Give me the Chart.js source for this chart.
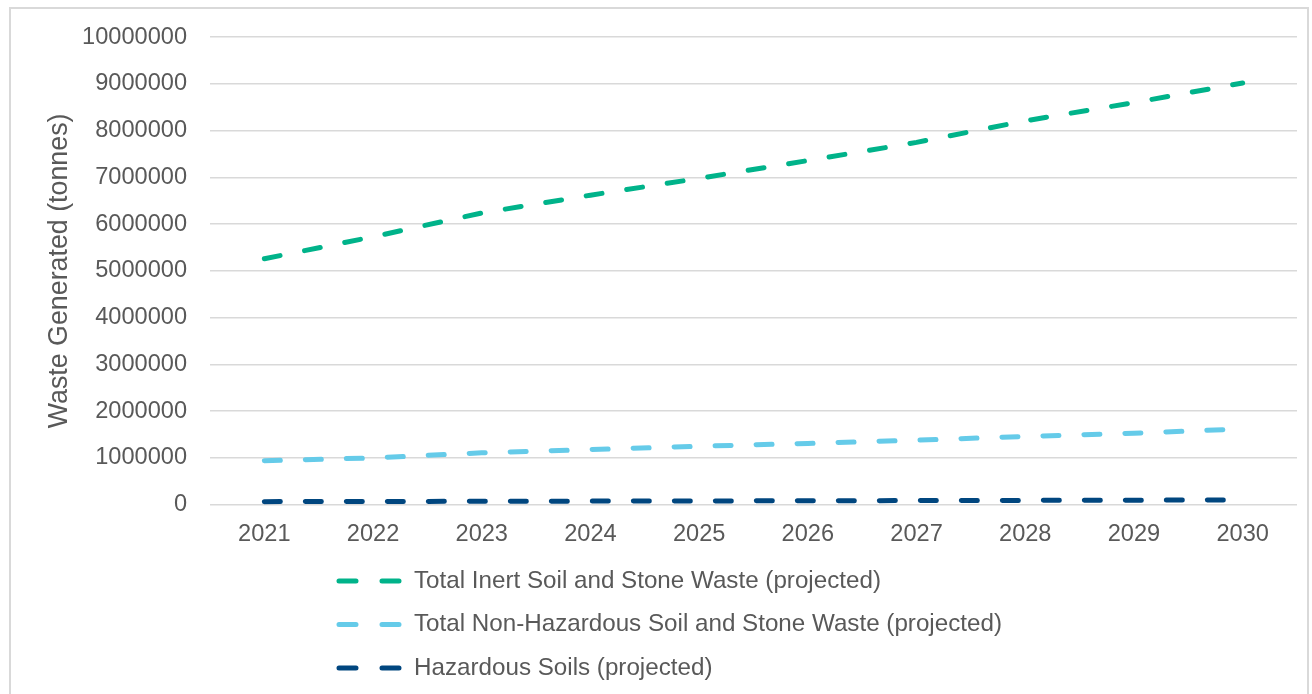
<!DOCTYPE html>
<html>
<head>
<meta charset="utf-8">
<script src="https://cdn.jsdelivr.net/npm/chart.js@4.4.0/dist/chart.umd.min.js"></script>
<style>
	body { margin: 0; background: #ffffff; }
	#frame { position: absolute; left: 9px; top: 7px; width: 1300px; height: 700px; border: 2px solid #d9d9d9; box-sizing: border-box; }
	#chart { position: absolute; left: 0; top: 0; }
</style>
</head>
<body>
<div id="frame"></div>
<canvas id="chart" width="1312" height="694"></canvas>
<script>
// Data (tonnes)
var years = ['2021', '2022', '2023', '2024', '2025', '2026', '2027', '2028', '2029', '2030'];
var inertWaste = [5260000, 5730000, 6240000, 6620000, 6980000, 7360000, 7750000, 8210000, 8600000, 9020000];
var nonHazWaste = [940000, 1000000, 1110000, 1180000, 1250000, 1310000, 1380000, 1460000, 1530000, 1620000];
var hazSoils = [65000, 69000, 72000, 76000, 80000, 84000, 88000, 92000, 96000, 101000];

var seriesNames = [
	'Total Inert Soil and Stone Waste (projected)',
	'Total Non-Hazardous Soil and Stone Waste (projected)',
	'Hazardous Soils (projected)'
];
var seriesColors = ['#00b38a', '#65cbe9', '#00467f'];

var yMin = 0;
var yMax = 10000000;
var yStep = 1000000;
var yTitle = 'Waste Generated (tonnes)';

var textColor = '#595959';
var fontFamily = '"Liberation Sans", Arial, sans-serif';
var fontSize = 23.6;
var titleFontSize = 26.8;
var legendFontSize = 24.2;

// Legend in the reference is one entry per row, so draw it ourselves
var stackedLegend = {
	id: 'stackedLegend',
	afterDraw: function(chart) {
		var ctx = chart.ctx;
		var top = 581;
		var rowGap = 43.5;
		chart.data.datasets.forEach(function(ds, i) {
			var y = top + i * rowGap;
			ctx.save();
			ctx.strokeStyle = ds.borderColor;
			ctx.lineWidth = 5;
			ctx.lineCap = 'round';
			ctx.beginPath();
			ctx.moveTo(339, y);
			ctx.lineTo(356, y);
			ctx.moveTo(382, y);
			ctx.lineTo(399, y);
			ctx.stroke();
			ctx.fillStyle = textColor;
			ctx.font = legendFontSize + 'px ' + fontFamily;
			ctx.textBaseline = 'middle';
			ctx.textAlign = 'left';
			ctx.fillText(ds.label, 414, y);
			ctx.restore();
		});
	}
};

function makeSeries(label, values, color) {
	return {
		label: label,
		data: values,
		borderColor: color,
		backgroundColor: color,
		borderWidth: 5,
		borderDash: [16, 25],
		borderCapStyle: 'round',
		pointRadius: 0,
		tension: 0,
		fill: false
	};
}

var ctx = document.getElementById('chart').getContext('2d');

var chart = new Chart(ctx, {
	type: 'line',
	data: {
		labels: years,
		datasets: [
			makeSeries(seriesNames[0], inertWaste, seriesColors[0]),
			makeSeries(seriesNames[1], nonHazWaste, seriesColors[1]),
			makeSeries(seriesNames[2], hazSoils, seriesColors[2])
		]
	},
	options: {
		responsive: false,
		animation: false,
		layout: {
			padding: { top: 36, right: 15, bottom: 137, left: 0 }
		},
		scales: {
			x: {
				offset: true,
				grid: { display: false },
				border: { display: false },
				ticks: {
					color: textColor,
					padding: 8,
					maxRotation: 0,
					font: { family: fontFamily, size: fontSize }
				}
			},
			y: {
				min: yMin,
				max: yMax,
				afterFit: function(scale) {
					scale.width = 210;
				},
				grid: {
					color: '#d9d9d9',
					lineWidth: 1.5,
					drawTicks: false
				},
				border: { display: false },
				ticks: {
					stepSize: yStep,
					color: textColor,
					padding: 23,
					font: { family: fontFamily, size: fontSize },
					callback: function(value) {
						return value.toString();
					}
				},
				title: {
					display: true,
					text: yTitle,
					color: textColor,
					padding: { top: 44, bottom: 0 },
					font: { family: fontFamily, size: titleFontSize }
				}
			}
		},
		plugins: {
			legend: { display: false },
			tooltip: { enabled: false }
		}
	},
	plugins: [stackedLegend]
});
</script>
</body>
</html>
